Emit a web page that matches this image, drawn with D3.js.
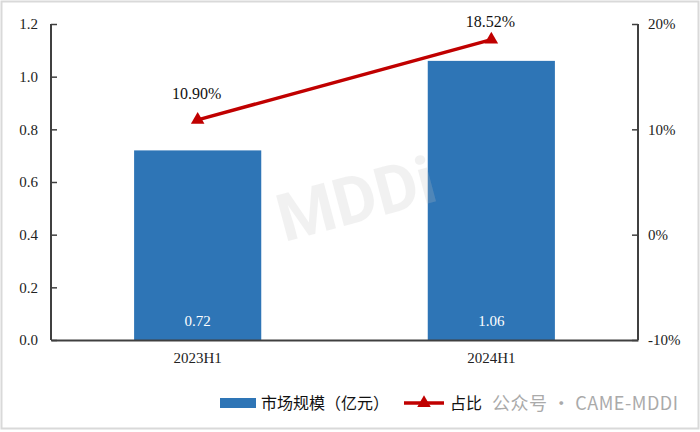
<!DOCTYPE html>
<html><head><meta charset="utf-8">
<script src="https://cdn.jsdelivr.net/npm/d3@7"></script>
<style>body{margin:0;background:#fff}svg{display:block}</style>
</head><body>
<script>
const categories = ["2023H1", "2024H1"];
const marketSize = [0.72, 1.06];
const share = [10.90, 18.52];
const leftTicks = [0, 0.2, 0.4, 0.6, 0.8, 1.0, 1.2];
const rightTicks = [-10, 0, 10, 20];

const W = 700, H = 432;
const m = {left: 51, right: 62, top: 24, bottom: 92};
const svg = d3.select("body").append("svg").attr("width", W).attr("height", H);

svg.append("rect").attr("x", 1.5).attr("y", 1.5).attr("width", W - 3).attr("height", H - 5)
  .attr("fill", "#fff").attr("stroke", "#d9d9d9").attr("stroke-width", 2);

const x = d3.scaleBand().domain(categories).range([m.left, W - m.right]).paddingInner(0.567).paddingOuter(0.283);
const y = d3.scaleLinear().domain([0, 1.2]).range([H - m.bottom, m.top]);
const y2 = d3.scaleLinear().domain([-10, 20]).range([H - m.bottom, m.top]);

svg.selectAll("rect.bar").data(marketSize).join("rect").attr("class", "bar")
  .attr("x", (d, i) => x(categories[i])).attr("width", x.bandwidth())
  .attr("y", d => y(d)).attr("height", d => y(0) - y(d)).attr("fill", "#2E75B6");

// watermark
svg.append("text").attr("x", 355).attr("y", 222).attr("text-anchor", "middle")
  .attr("font-family", "Roboto, sans-serif").attr("font-weight", "bold").attr("font-size", 66)
  .attr("fill", "#fff").attr("opacity", 0.18).attr("transform", "rotate(-15,355,195)").text("MDDi");
svg.append("text").attr("x", 355).attr("y", 222).attr("text-anchor", "middle")
  .attr("font-family", "Roboto, sans-serif").attr("font-weight", "bold").attr("font-size", 66)
  .attr("fill", "#000").attr("opacity", 0.05).attr("transform", "rotate(-15,355,195)").text("MDDi");

const serif = "'Liberation Serif', 'Times New Roman', serif";

svg.selectAll("text.bl").data(marketSize).join("text").attr("class", "bl")
  .attr("x", (d, i) => x(categories[i]) + x.bandwidth() / 2).attr("y", y(0) - 14)
  .attr("text-anchor", "middle").attr("font-family", serif).attr("font-size", 15)
  .attr("fill", "#fff").text(d => d.toFixed(2));

const axL = svg.append("g").attr("transform", `translate(${m.left},0)`)
  .call(d3.axisRight(y).tickValues(leftTicks).tickSize(6).tickFormat(d3.format(".1f")));
axL.selectAll("text").attr("x", -13).attr("text-anchor", "end");
const axR = svg.append("g").attr("transform", `translate(${W - m.right},0)`)
  .call(d3.axisLeft(y2).tickValues(rightTicks).tickSize(6).tickFormat(d => d + "%"));
axR.selectAll("text").attr("x", 10).attr("text-anchor", "start");
const axB = svg.append("g").attr("transform", `translate(0,${y(0)})`)
  .call(d3.axisBottom(x).tickSize(0).tickPadding(12));
[axL, axR, axB].forEach(a => {
  a.attr("font-family", serif);
  a.select(".domain").attr("stroke", "#404040").attr("stroke-width", 2);
  a.selectAll(".tick line").attr("stroke", "#404040").attr("stroke-width", 1.5);
  a.selectAll("text").attr("font-family", serif).attr("font-size", 15).attr("fill", "#222");
});
axL.select(".domain").attr("d", `M0,${m.top}V${y(0)}`);
axR.select(".domain").attr("d", `M0,${m.top}V${y(0)}`);

const cx = (d, i) => x(categories[i]) + x.bandwidth() / 2;
svg.append("path").datum(share)
  .attr("d", d3.line().x(cx).y(d => y2(d)))
  .attr("fill", "none").attr("stroke", "#C00000").attr("stroke-width", 3.5);
const tri = d3.symbol().type(d3.symbolTriangle).size(80);
svg.selectAll("path.mk").data(share).join("path").attr("class", "mk")
  .attr("transform", (d, i) => `translate(${cx(d, i)},${y2(d)})`).attr("d", tri).attr("fill", "#C00000");
svg.selectAll("text.ll").data(share).join("text").attr("class", "ll")
  .attr("x", (d, i) => cx(d, i) - 1).attr("y", (d, i) => y2(d) - (i === 0 ? 21 : 13))
  .attr("text-anchor", "middle").attr("font-family", serif).attr("font-size", 16)
  .attr("fill", "#111").text(d => d.toFixed(2) + "%");

// legend
const lg = svg.append("g");
const cjk = "'Noto Sans CJK SC', sans-serif";
lg.append("rect").attr("x", 220).attr("y", 398).attr("width", 36).attr("height", 10).attr("fill", "#2E75B6");
lg.append("text").attr("x", 261).attr("y", 409).attr("font-family", cjk).attr("font-size", 16).attr("fill", "#111").text("市场规模（亿元）");
lg.append("line").attr("x1", 404).attr("x2", 444).attr("y1", 403).attr("y2", 403).attr("stroke", "#C00000").attr("stroke-width", 3.5);
lg.append("path").attr("transform", "translate(424,403)").attr("d", tri).attr("fill", "#C00000");
lg.append("text").attr("x", 450).attr("y", 409).attr("font-family", cjk).attr("font-size", 16).attr("fill", "#111").text("占比");
lg.append("text").attr("x", 492).attr("y", 410).attr("font-family", cjk).attr("font-size", 18).attr("fill", "#aaa")
  .attr("textLength", 186).text("公众号 · CAME-MDDI");
</script>
</body></html>
